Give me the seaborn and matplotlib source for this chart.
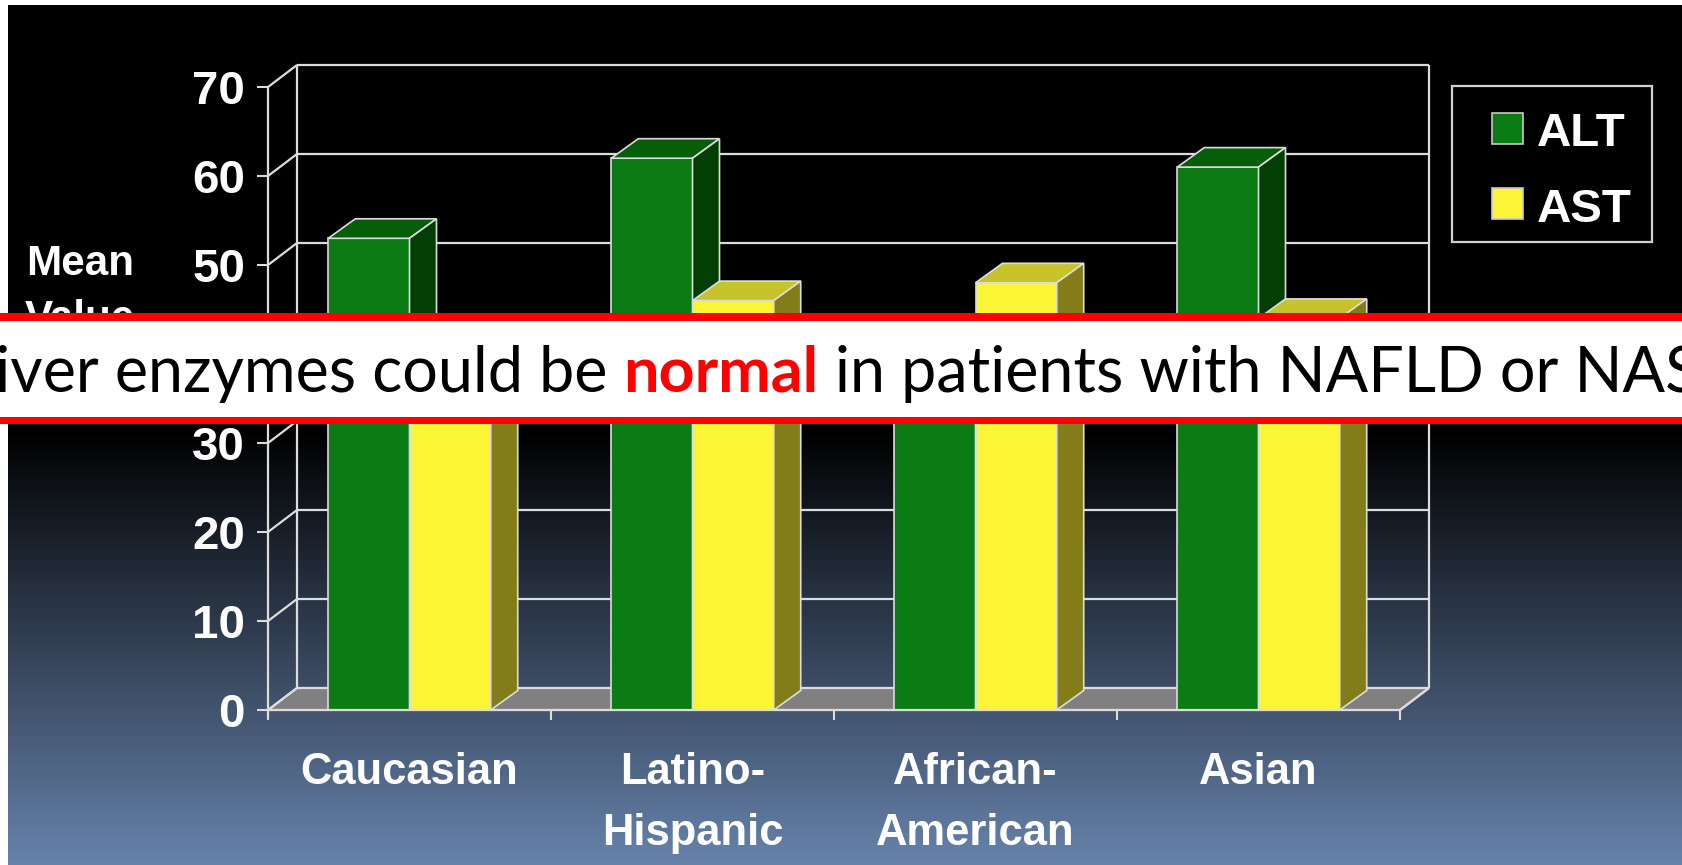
import numpy as np
import pandas as pd
import matplotlib
matplotlib.use("Agg")
import matplotlib.pyplot as plt
from matplotlib import font_manager
from matplotlib.patches import Polygon, Rectangle
import seaborn as sns

# ---- data -------------------------------------------------------------
groups = ["Caucasian", "Latino-\nHispanic", "African-\nAmerican", "Asian"]
enzymes = ["ALT", "AST"]
alt_values = [53, 62, 38, 61]
ast_values = [38, 46, 48, 44]
y_ticks = [0, 10, 20, 30, 40, 50, 60, 70]
y_label_lines = ["Mean", "Value"]
banner_before = "Liver enzymes could be"
banner_key = "normal"
banner_after = "in patients with NAFLD or NASH"

# ---- style ------------------------------------------------------------
sns.set_style("white")
available = {f.name for f in font_manager.fontManager.ttflist}
NARROW = "Liberation Sans Narrow" in available
COND = "Liberation Sans Narrow" if NARROW else "Liberation Sans"
plt.rcParams["font.family"] = [COND, "DejaVu Sans"]
shrink = 1.0 if NARROW else 0.95

GREEN, GREEN_TOP, GREEN_SIDE = "#0b7b13", "#065e0b", "#033f05"
YELLOW, YELLOW_TOP, YELLOW_SIDE = "#fbf535", "#c7c32b", "#827d19"
EDGE = "#dcdcdc"
FLOOR = "#808080"

W, H = 1682, 865
fig = plt.figure(figsize=(W / 100, H / 100), dpi=100, facecolor="white")


def fx(px):
    return px / W


def fy(py):
    return 1 - py / H


# ---- slide background: black fading into steel blue ---------------------
bg = fig.add_axes([fx(8), 0, 1 - fx(8), 1 - 5 / H], zorder=-5)
rows = np.arange(5, H)
t = np.clip((rows - 430) / (H - 430), 0, 1)
bottom_rgb = np.array([103, 131, 172]) / 255
grad = t[:, None] * bottom_rgb[None, :]
bg.imshow(np.repeat(grad[:, None, :], 2, axis=1), aspect="auto",
          extent=[0, 1, 0, 1], interpolation="bilinear")
bg.axis("off")

# ---- chart axes ---------------------------------------------------------
ax = fig.add_axes([fx(268), fy(710), fx(1400) - fx(268), fy(87) - fy(710)])
ax.patch.set_alpha(0)

df = pd.DataFrame({
    "group": groups * 2,
    "enzyme": [enzymes[0]] * len(groups) + [enzymes[1]] * len(groups),
    "value": alt_values + ast_values,
})
sns.barplot(data=df, x="group", y="value", hue="enzyme", order=groups,
            hue_order=enzymes, palette=[GREEN, YELLOW], width=0.574,
            saturation=1, errorbar=None, legend=False, edgecolor=EDGE,
            linewidth=1.2, ax=ax)

cat_px = 1132 / 4
val_px = 623 / 70
WDX, WDY = 29 / cat_px, 22 / val_px      # depth of the walls
BDX, BDY = 27 / cat_px, 19.5 / val_px    # depth of the bars

# floor and walls
ax.add_patch(Polygon([(-0.5, 0), (3.5, 0), (3.5 + WDX, WDY), (-0.5 + WDX, WDY)],
                     closed=True, facecolor=FLOOR, edgecolor=EDGE, lw=1.5,
                     zorder=1, clip_on=False))
wall_kw = dict(color=EDGE, lw=1.6, solid_capstyle="butt", clip_on=False, zorder=1.5)
for v in y_ticks:
    ax.plot([-0.5 + WDX, 3.5 + WDX], [v + WDY] * 2, **wall_kw)
    ax.plot([-0.5, -0.5 + WDX], [v, v + WDY], **wall_kw)
ax.plot([-0.5 + WDX] * 2, [WDY, 70 + WDY], **wall_kw)
ax.plot([3.5 + WDX] * 2, [WDY, 70 + WDY], **wall_kw)
ax.plot([3.5, 3.5 + WDX], [0, WDY], **wall_kw)

# bars as blocks: front face from seaborn, plus top and side faces
faces = [(GREEN_TOP, GREEN_SIDE, 3), (YELLOW_TOP, YELLOW_SIDE, 4)]
for cont, (top_c, side_c, z) in zip(ax.containers, faces):
    for bar in cont:
        bar.set_zorder(z)
        x0, w, h = bar.get_x(), bar.get_width(), bar.get_height()
        ax.add_patch(Polygon([(x0, h), (x0 + w, h), (x0 + w + BDX, h + BDY),
                              (x0 + BDX, h + BDY)], closed=True, facecolor=top_c,
                             edgecolor=EDGE, lw=1.2, zorder=z, clip_on=False))
        ax.add_patch(Polygon([(x0 + w, 0), (x0 + w + BDX, BDY),
                              (x0 + w + BDX, h + BDY), (x0 + w, h)], closed=True,
                             facecolor=side_c, edgecolor=EDGE, lw=1.2, zorder=z,
                             clip_on=False))

# front axes lines
axis_kw = dict(color=EDGE, lw=1.6, solid_capstyle="butt", clip_on=False, zorder=5)
ax.plot([-0.5, -0.5], [-8 / val_px, 70], **axis_kw)
ax.plot([-0.5, 3.5], [0, 0], **axis_kw)

ax.set_xlim(-0.5, 3.5)
ax.set_ylim(0, 70)
for sp in ax.spines.values():
    sp.set_visible(False)
ax.set_xlabel("")
ax.set_ylabel("")

ax.set_yticks(y_ticks)
ax.set_yticklabels([str(v) for v in y_ticks])
ax.set_xticks(range(len(groups)))
ax.set_xticklabels(groups)
ax.set_xticks(np.arange(-0.5, len(groups)), minor=True)
ax.tick_params(axis="y", which="major", direction="out", length=11 * 0.72,
               width=1.5, color=EDGE, labelcolor="white",
               labelsize=36 * shrink, pad=12 * 0.72, left=True)
ax.tick_params(axis="x", which="major", length=0, labelcolor="white",
               labelsize=33 * shrink, pad=42 * 0.72, bottom=True)
ax.tick_params(axis="x", which="minor", direction="out", length=10 * 0.72,
               width=1.5, color=EDGE, bottom=True)
for lbl in ax.get_xticklabels():
    lbl.set_fontweight("bold")
    lbl.set_linespacing(1.64)
for lbl in ax.get_yticklabels():
    lbl.set_fontweight("bold")

# axis title, one word per line
for line, base in zip(y_label_lines, [275, 330]):
    fig.text(fx(80), fy(base), line, ha="center", va="baseline", color="white",
             fontsize=32 * shrink, fontweight="bold")

# ---- legend -----------------------------------------------------------
fig.add_artist(Rectangle((fx(1452), fy(242)), fx(200), 156 / H,
                         transform=fig.transFigure, facecolor="black",
                         edgecolor="#d0d0d0", lw=1.6, zorder=6))
for name, color, top_px, base_px in [(enzymes[0], GREEN, 113, 146),
                                     (enzymes[1], YELLOW, 188, 222)]:
    fig.add_artist(Rectangle((fx(1492), fy(top_px + 31)), fx(31), 31 / H,
                             transform=fig.transFigure, facecolor=color,
                             edgecolor="#c8c8c8", lw=1.2, zorder=7))
    fig.text(fx(1537), fy(base_px), name, ha="left", va="baseline",
             color="white", fontsize=36 * shrink, fontweight="bold", zorder=7)

# ---- banner -----------------------------------------------------------
fig.add_artist(Rectangle((0, fy(424)), 1, 111 / H, transform=fig.transFigure,
                         facecolor="#ff0000", edgecolor="none", zorder=20))
fig.add_artist(Rectangle((0, fy(417)), 1, 96 / H, transform=fig.transFigure,
                         facecolor="white", edgecolor="none", zorder=21))

fig.canvas.draw()
renderer = fig.canvas.get_renderer()


def text_width(s, size, weight="normal"):
    tmp = fig.text(0, 0, s, family=["Lato"], fontsize=size, fontweight=weight)
    w = tmp.get_window_extent(renderer).width
    tmp.remove()
    return w


# size the banner line so that "iver ... or" spans x = 1 .. 1563 px
ref = 40
lead = text_width(banner_before, ref) - text_width(banner_before[1:], ref)
sp = text_width("n n", ref) - text_width("nn", ref)
span = (text_width(banner_before, ref) - lead + sp
        + text_width(banner_key, ref, "bold") + sp
        + text_width(banner_after.rsplit(" ", 1)[0], ref))
fs = ref * 1562 / span
k = fs / ref
lead, sp = lead * k, sp * k
bearing = 0.09 * fs * 100 / 72          # left side bearing of the capital L
base_y = fy(392)
x_start = 1 - lead - bearing
before_w = text_width(banner_before, fs)
key_w = text_width(banner_key, fs, "bold")
fig.text(fx(x_start), base_y, banner_before, ha="left", va="baseline",
         family=["Lato"], color="black", fontsize=fs, zorder=22)
key_x = x_start + before_w + sp
fig.text(fx(key_x), base_y, banner_key, ha="left", va="baseline",
         family=["Lato"], fontweight="bold", color="#ff0000", fontsize=fs,
         zorder=22)
fig.text(fx(key_x + key_w + sp), base_y, banner_after, ha="left",
         va="baseline", family=["Lato"], color="black", fontsize=fs, zorder=22)

fig.savefig("out.png", dpi=100, facecolor="white")
